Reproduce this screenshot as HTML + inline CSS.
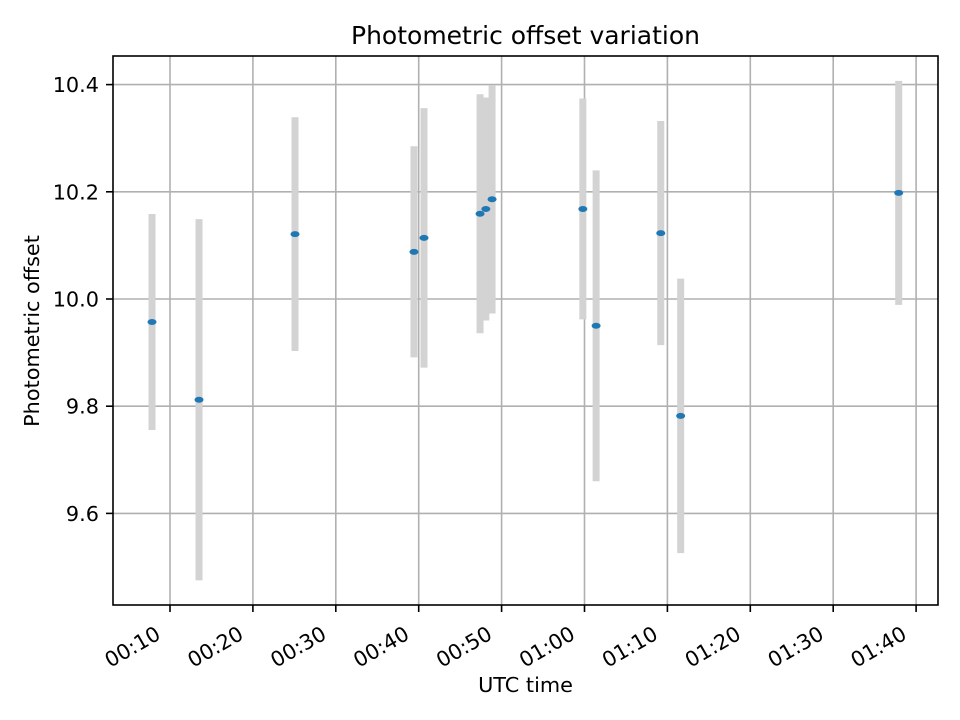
<!DOCTYPE html>
<html><head><meta charset="utf-8"><style>
body{margin:0;background:#fff;}
svg{display:block;font-family:"DejaVu Sans","Liberation Sans",sans-serif;}
</style></head><body>
<svg id="chart" width="960" height="720"></svg>
<script>
const timesMin=[7.83,13.5,25.08,39.43,40.64,47.4,48.1,48.85,59.8,61.4,69.2,71.6,97.9];
const offsets=[9.957,9.812,10.121,10.088,10.114,10.159,10.168,10.186,10.168,9.950,10.123,9.782,10.198];
const errors=[0.2015,0.337,0.218,0.197,0.242,0.223,0.208,0.213,0.206,0.29,0.209,0.256,0.209];
const yTicks=[9.6,9.8,10.0,10.2,10.4];
const xTicksMin=[10,20,30,40,50,60,70,80,90,100];
const xTickLabels=["00:10","00:20","00:30","00:40","00:50","01:00","01:10","01:20","01:30","01:40"];

const L=113,R=938,T=56,B=605;
const xs=m=>170+(m-10)*8.29;
const ys=v=>299-(v-10)*536;
const NS="http://www.w3.org/2000/svg";
const svg=document.getElementById('chart');
function mk(tag,attrs,parent){const e=document.createElementNS(NS,tag);for(const k in attrs)e.setAttribute(k,attrs[k]);(parent||svg).appendChild(e);return e;}

const grid=mk('g',{});


xTicksMin.forEach((m,i)=>{
  const x=xs(m);
  const gl=mk('line',{x1:x,x2:x,y1:T,y2:B,stroke:'#b0b0b0','stroke-width':1.6},grid);
  
  
  const tk=mk('line',{x1:x,x2:x,y1:B,y2:B+7,stroke:'#000','stroke-width':1.6});
  
  
  const ax=x-8, ay=B+33;
  const t=mk('text',{x:ax,y:ay,'font-size':20.8,'text-anchor':'end',transform:`rotate(-30 ${ax} ${ay})`});
  t.textContent=xTickLabels[i];
  
  
});
yTicks.forEach(v=>{
  const y=ys(v);
  const gl=mk('line',{x1:L,x2:R,y1:y,y2:y,stroke:'#b0b0b0','stroke-width':1.6},grid);
  
  
  const tk=mk('line',{x1:L-7,x2:L,y1:y,y2:y,stroke:'#000','stroke-width':1.6});
  
  
  const t=mk('text',{x:L-14,y:y+7.5,'font-size':20.8,'text-anchor':'end'});
  t.textContent=v.toFixed(1);
  
  
});

timesMin.forEach((m,i)=>{
  const x=xs(m);
  const eb=mk('line',{x1:x,x2:x,y1:ys(offsets[i]+errors[i]),y2:ys(offsets[i]-errors[i]),stroke:'#d3d3d3','stroke-width':7});
  
  
});
timesMin.forEach((m,i)=>{
  const p=mk('ellipse',{cx:xs(m),cy:ys(offsets[i]),rx:4.5,ry:3,fill:'#1f77b4'});
  
  
});

const frame=mk('rect',{x:L,y:T,width:R-L,height:B-T,fill:'none',stroke:'#000','stroke-width':1.6});



const title=mk('text',{x:(L+R)/2,y:44,'font-size':25,'text-anchor':'middle'});
title.textContent='Photometric offset variation';


const xt=mk('text',{x:(L+R)/2,y:692,'font-size':20.8,'text-anchor':'middle'});
xt.textContent='UTC time';


const cy=331;
const yt=mk('text',{x:39,y:cy,'font-size':20.8,'text-anchor':'middle',transform:`rotate(-90 39 ${cy})`});
yt.textContent='Photometric offset';


</script>
</body></html>
